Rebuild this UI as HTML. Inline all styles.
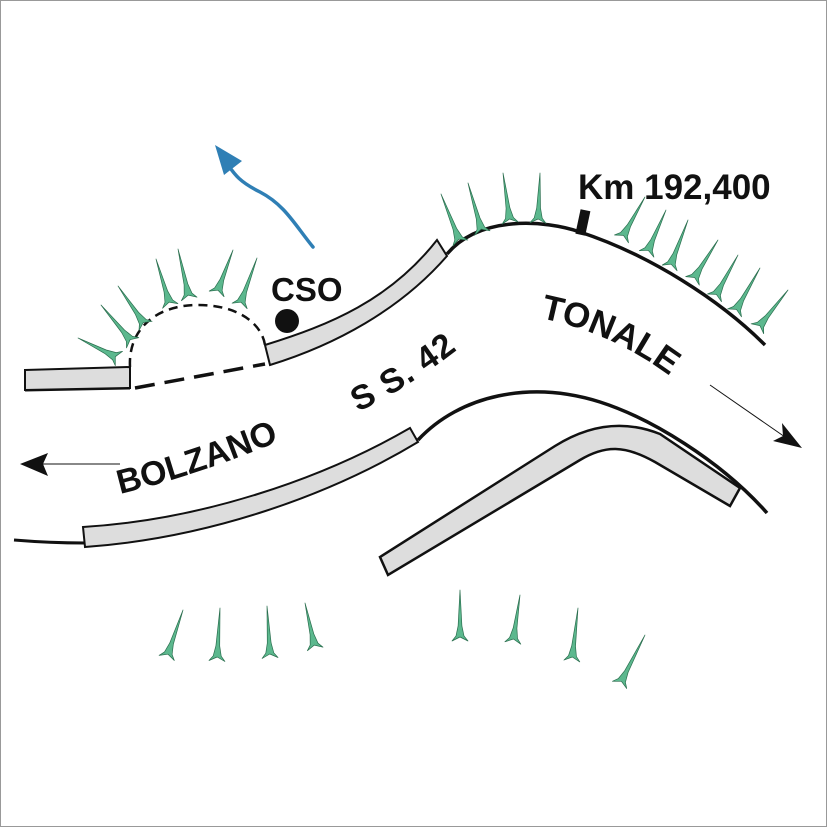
<!DOCTYPE html>
<html><head><meta charset="utf-8"><style>html,body{margin:0;padding:0;background:#fff}svg{display:block}</style></head>
<body>
<svg id="s" width="827" height="827" viewBox="0 0 827 827" xmlns="http://www.w3.org/2000/svg" font-family="Liberation Sans, sans-serif" font-weight="bold">
<defs>
<path id="pB" d="M120,494 Q210,472 300,432"/>
<path id="pS" d="M358,412 Q420,382 478,333"/>
<path id="pT" d="M540,318 Q625,335 692,394"/>
</defs>
<rect x="0.5" y="0.5" width="826" height="826" fill="#fff" stroke="#999"/>

<path d="M25,390 L130,388" stroke="#111" stroke-width="3" fill="none"/>
<path d="M25,370 L130,367 L130,388 L25,390 Z" fill="#ddd" stroke="#111" stroke-width="2"/>
<path d="M130,367 C128,330 155,305 198,305 C240,305 262,325 265,345" stroke="#111" stroke-width="2.5" fill="none" stroke-dasharray="9,6"/>
<path d="M135,388 L265,364" stroke="#111" stroke-width="3.5" fill="none" stroke-dasharray="20,10"/>
<path d="M265,345 C330,325 390,300 437,240 L447,256 C400,310 335,345 270,365 Z" fill="#ddd" stroke="#111" stroke-width="2"/>
<path d="M447,254 C480,215 545,220 580,232 C650,255 720,300 765,345" stroke="#111" stroke-width="3.5" fill="none"/>
<rect x="578" y="210" width="10" height="25" fill="#111" transform="rotate(12 583 222)"/>

<path d="M14,540 Q50,543 85,543" stroke="#111" stroke-width="3" fill="none"/>
<path d="M83,527 C200,520 320,480 410,428 L418,442 C330,495 210,538 85,547 Z" fill="#ddd" stroke="#111" stroke-width="2"/>
<path d="M418,440 C460,395 530,380 600,402 C650,418 720,460 767,513" stroke="#111" stroke-width="3.5" fill="none"/>
<path d="M380,557 L555,446 C590,424 625,420 660,434 L740,488 L730,506 L655,462 C625,445 605,445 580,460 L388,575 Z" fill="#ddd" stroke="#111" stroke-width="2.5"/>

<circle cx="287" cy="321" r="12" fill="#111"/>

<g id="trees" fill="#5cb88e" stroke="#2a6e4e" stroke-width="0.7" stroke-linejoin="round"></g>

<path d="M313,247 C295,225 285,205 260,192 C240,182 235,175 228,165" stroke="#2f7fb5" stroke-width="3.5" fill="none" stroke-linecap="round"/>
<path d="M215,145 L242,161 L224,175 Z" fill="#2f7fb5"/>

<line x1="120" y1="464" x2="40" y2="464" stroke="#111" stroke-width="1"/>
<path d="M20,464 L48,453 L43,464 L48,476 Z" fill="#111"/>
<line x1="710" y1="385" x2="785" y2="437" stroke="#111" stroke-width="1"/>
<path d="M802,448 L773,441 L783,436 L782,423 Z" fill="#111"/>

<text x="271" y="301" font-size="33" fill="#111">CSO</text>
<text x="578" y="199" font-size="35" fill="#111">Km 192,400</text>
<text font-size="34" fill="#111"><textPath href="#pB">BOLZANO</textPath></text>
<text font-size="34" fill="#111" letter-spacing="1"><textPath href="#pS">S S. 42</textPath></text>
<text font-size="35" fill="#111"><textPath href="#pT">TONALE</textPath></text>
</svg>
<script>
var T=[
[78,338,118,358],[101,305,132,342],[118,286,145,325],[156,259,170,305],[178,249,189,298],[233,250,217,293],[257,258,240,305],
[441,194,460,242],[468,183,482,232],[503,173,510,222],[540,173,538,222],[645,197,622,238],[666,210,647,253],[688,220,670,267],[718,240,693,280],[738,255,715,297],[760,268,735,312],[788,290,758,328],
[183,610,167,657],[220,608,217,660],[267,606,270,657],[305,603,315,648],[460,590,460,640],[520,595,513,642],[578,608,572,660],[645,635,620,684]];
var g=document.getElementById('trees'),d='';
T.forEach(function(t){
 var tx=t[0],ty=t[1],bx=t[2],by=t[3],dx=tx-bx,dy=ty-by,L=Math.hypot(dx,dy),ux=dx/L,uy=dy/L,px=-uy,py=ux;
 function P(a,w){return (bx+ux*a+px*w).toFixed(1)+','+(by+uy*a+py*w).toFixed(1);}
 d+='M'+P(L,0)+' L'+P(14,1.9)+' L'+P(4,4)+' L'+P(-1,8)+' L'+P(3,0)+' L'+P(-1,-8)+' L'+P(4,-4)+' L'+P(14,-1.9)+' Z ';
});
var p=document.createElementNS('http://www.w3.org/2000/svg','path');p.setAttribute('d',d);g.appendChild(p);
</script>
</body></html>
